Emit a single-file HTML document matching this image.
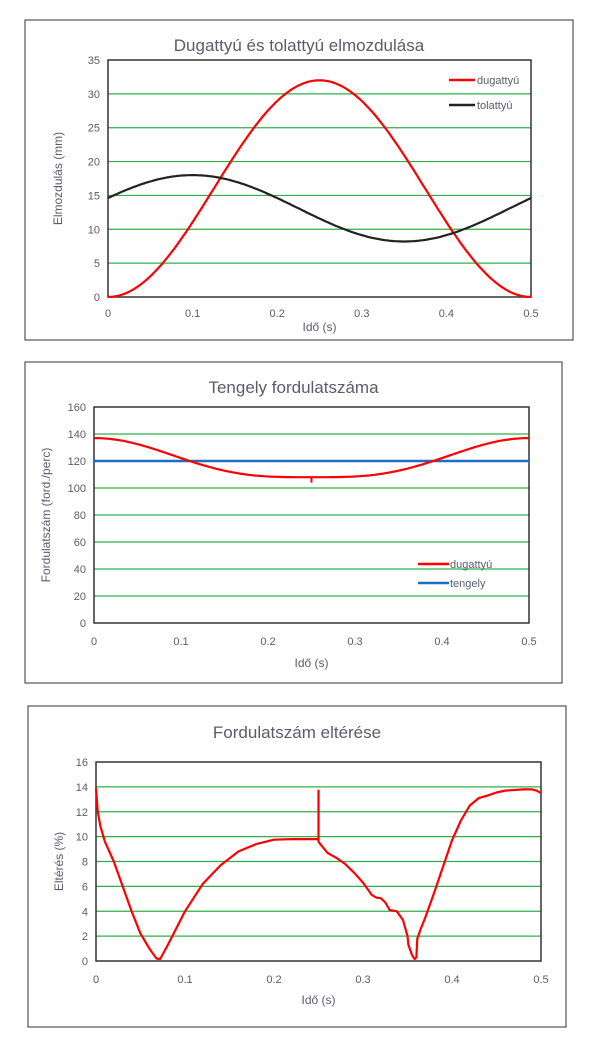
<!DOCTYPE html>
<html><head><meta charset="utf-8"><style>
html,body{margin:0;padding:0;background:#fff}
svg{display:block;font-family:"Liberation Sans",sans-serif}
</style></head><body>
<svg id="s" width="600" height="1052" viewBox="0 0 600 1052" xmlns="http://www.w3.org/2000/svg"></svg>
<script>
const S=document.getElementById('s');let h='';
const TC='#5b5b6e';
function chart(o){
 const {bx,by,bw,bh,px0,px1,py0,py1,ymax,ystep,title,ty,ylab,ylx,xty,xly,tfs}=o;
 h+=`<rect x="${bx}" y="${by}" width="${bw}" height="${bh}" fill="#fff" stroke="#555" stroke-width="1.2"/>`;
 h+=`<text x="${(bx+bw/2)+(o.tdx||0)}" y="${ty}" font-size="${tfs}" fill="${TC}" text-anchor="middle">${title}</text>`;
 const Y=v=>py1-(v/ymax)*(py1-py0), X=t=>px0+(t/0.5)*(px1-px0);
 for(let v=ystep;v<ymax;v+=ystep) h+=`<line x1="${px0}" x2="${px1}" y1="${Y(v)}" y2="${Y(v)}" stroke="#2db04b" stroke-width="1.2"/>`;
 h+=`<rect x="${px0}" y="${py0}" width="${px1-px0}" height="${py1-py0}" fill="none" stroke="#333" stroke-width="1.5"/>`;
 for(let v=0;v<=ymax;v+=ystep) h+=`<text x="${px0-8}" y="${Y(v)+4}" font-size="11" fill="${TC}" text-anchor="end">${v}</text>`;
 for(let i=0;i<=5;i++) h+=`<text x="${X(i/10)}" y="${xty}" font-size="11" fill="${TC}" text-anchor="middle">${i?('0.'+i):'0'}</text>`;
 h+=`<text x="${(px0+px1)/2}" y="${xly}" font-size="12" fill="${TC}" text-anchor="middle">Idő (s)</text>`;
 h+=`<text transform="translate(${ylx},${(py0+py1)/2}) rotate(-90)" font-size="12" fill="${TC}" text-anchor="middle">${ylab}</text>`;
 return {X,Y};
}
function path(pts,c,w){h+=`<polyline fill="none" stroke="${c}" stroke-width="${w}" stroke-linejoin="round" points="${pts.map(p=>p[0].toFixed(1)+','+p[1].toFixed(1)).join(' ')}"/>`;}
// chart 1
let a=chart({bx:25,by:20,bw:548,bh:320,px0:108,px1:531,py0:60,py1:297,ymax:35,ystep:5,title:'Dugattyú és tolattyú elmozdulása',ty:51,tfs:17,ylab:'Elmozdulás (mm)',ylx:62,xty:317,xly:331});
let p1=[],p2=[];
for(let i=0;i<=200;i++){const t=i/400;p1.push([a.X(t),a.Y(16*(1-Math.cos(4*Math.PI*t)))]);p2.push([a.X(t),a.Y(13.1+4.9*Math.cos(4*Math.PI*(t-0.1)))]);}
path(p1,'#ff0000',2.2);path(p2,'#222',2.2);
h+=`<line x1="449" x2="475" y1="80" y2="80" stroke="#f00" stroke-width="2.5"/><text x="477" y="84" font-size="11" fill="${TC}">dugattyú</text>`;
h+=`<line x1="449" x2="475" y1="105" y2="105" stroke="#222" stroke-width="2.5"/><text x="477" y="109" font-size="11" fill="${TC}">tolattyú</text>`;
// chart 2
let b=chart({bx:25,by:362,bw:537,bh:321,px0:94,px1:529,py0:407,py1:623,ymax:160,ystep:20,title:'Tengely fordulatszáma',ty:393,tfs:17,ylab:'Fordulatszám (ford./perc)',ylx:50,xty:645,xly:667});
path([[b.X(0),b.Y(120)],[b.X(0.5),b.Y(120)]],'#1f6fc0',2.5);
let q=[];for(let i=0;i<=200;i++){const t=i/400;const f=Math.pow((1+Math.cos(4*Math.PI*t))/2,1.69);q.push([b.X(t),b.Y(108+29*f)]);}
path(q,'#ff0000',2.2);
path([[b.X(0.25),b.Y(108)],[b.X(0.25),b.Y(104)]],'#ff0000',2);
h+=`<line x1="418" x2="449" y1="564" y2="564" stroke="#f00" stroke-width="2.5"/><text x="450" y="568" font-size="11" fill="${TC}">dugattyú</text>`;
h+=`<line x1="418" x2="449" y1="583" y2="583" stroke="#1f6fc0" stroke-width="2.5"/><text x="450" y="587" font-size="11" fill="${TC}">tengely</text>`;
// chart 3
let c=chart({bx:28,by:706,bw:538,bh:321,px0:96,px1:541,py0:762,py1:961,ymax:16,ystep:2,title:'Fordulatszám eltérése',ty:738,tfs:17,ylab:'Eltérés (%)',ylx:63,xty:983,xly:1004});
const d=[[0,13.9],[0.002,12],[0.005,10.8],[0.01,9.6],[0.02,8],[0.03,6],[0.04,4],[0.05,2.2],[0.06,1],[0.068,0.2],[0.072,0.15],[0.08,1.2],[0.09,2.6],[0.1,4],[0.12,6.2],[0.14,7.7],[0.16,8.8],[0.18,9.4],[0.2,9.75],[0.22,9.8],[0.25,9.8],[0.25,13.7],[0.25,9.6],[0.252,9.4],[0.26,8.7],[0.27,8.3],[0.28,7.8],[0.29,7.1],[0.3,6.3],[0.31,5.3],[0.315,5.1],[0.32,5.05],[0.325,4.7],[0.33,4.1],[0.338,4],[0.345,3.3],[0.35,2],[0.351,1.3],[0.355,0.5],[0.358,0.15],[0.36,0.3],[0.361,1.8],[0.365,2.6],[0.37,3.5],[0.38,5.5],[0.39,7.6],[0.4,9.7],[0.41,11.3],[0.42,12.5],[0.43,13.1],[0.44,13.3],[0.45,13.55],[0.46,13.7],[0.48,13.8],[0.49,13.8],[0.495,13.7],[0.5,13.5]];
path(d.map(p=>[c.X(p[0]),c.Y(p[1])]),'#ff0000',2.2);
S.innerHTML=h;
</script>
</body></html>
